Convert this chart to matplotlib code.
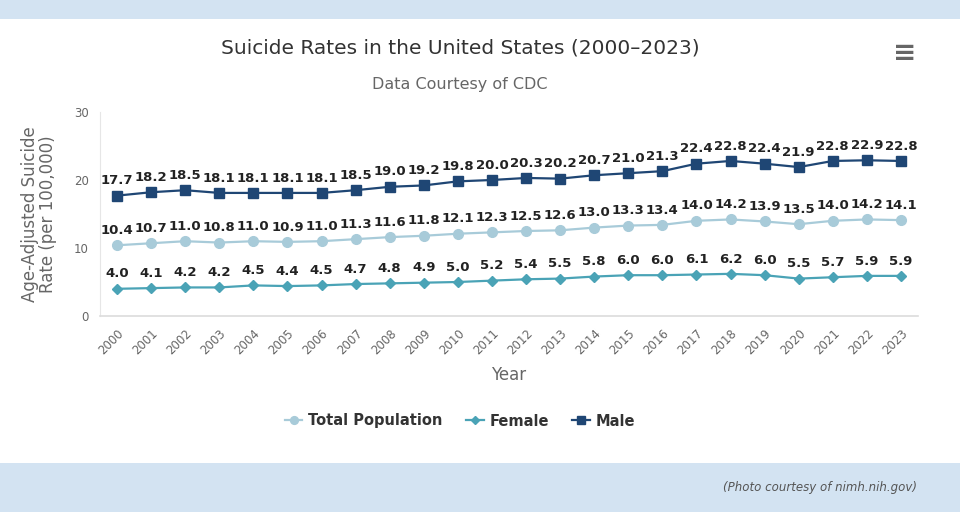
import numpy as np
import matplotlib.pyplot as plt
from matplotlib.patches import Rectangle

# Data
years = list(range(2000, 2024))
total = [10.4, 10.7, 11.0, 10.8, 11.0, 10.9, 11.0, 11.3, 11.6, 11.8, 12.1, 12.3,
         12.5, 12.6, 13.0, 13.3, 13.4, 14.0, 14.2, 13.9, 13.5, 14.0, 14.2, 14.1]
female = [4.0, 4.1, 4.2, 4.2, 4.5, 4.4, 4.5, 4.7, 4.8, 4.9, 5.0, 5.2,
          5.4, 5.5, 5.8, 6.0, 6.0, 6.1, 6.2, 6.0, 5.5, 5.7, 5.9, 5.9]
male = [17.7, 18.2, 18.5, 18.1, 18.1, 18.1, 18.1, 18.5, 19.0, 19.2, 19.8, 20.0,
        20.3, 20.2, 20.7, 21.0, 21.3, 22.4, 22.8, 22.4, 21.9, 22.8, 22.9, 22.8]
y_ticks = [0, 10, 20, 30]

title = "Suicide Rates in the United States (2000\u20132023)"
subtitle = "Data Courtesy of CDC"

c_total = "#a8cbd9"
c_female = "#4aa3b6"
c_male = "#1f4674"
band = "#d3e3f2"
grey = "#666666"
font = "DejaVu Sans"

# Figure setup
fig = plt.figure(figsize=(9.6, 5.12), dpi=100)
fig.patch.set_facecolor("white")
fig.add_artist(Rectangle((0, 1 - 19 / 512), 1, 19 / 512, transform=fig.transFigure,
                         facecolor=band, edgecolor="none"))
fig.add_artist(Rectangle((0, 0), 1, 49 / 512, transform=fig.transFigure,
                         facecolor=band, edgecolor="none"))

ax = fig.add_axes([100 / 960, 1 - 316 / 512, 818 / 960, 204 / 512])
x = np.arange(len(years))

series = [
    ("Total Population", total, c_total, "o", 7),
    ("Female", female, c_female, "D", 5),
    ("Male", male, c_male, "s", 7.5),
]
for name, vals, col, mk, ms in series:
    ax.plot(x, vals, color=col, lw=1.6, marker=mk, markersize=ms, label=name, zorder=3)
    for xi, v in zip(x, vals):
        ax.annotate(f"{v:.1f}", (xi, v), xytext=(0, 6), textcoords="offset points",
                    ha="center", va="bottom", fontsize=9.5, fontweight="bold",
                    color="#222222", family=font)

ax.set_xlim(-0.5, 23.5)
ax.set_ylim(0, 30)
ax.set_yticks(y_ticks)
ax.set_yticklabels([str(t) for t in y_ticks], color=grey, fontsize=8.5, family=font)
ax.set_xticks(x)
ax.set_xticklabels([str(y) for y in years], rotation=45, ha="right",
                   rotation_mode="anchor", color=grey, fontsize=8.5, family=font)
ax.tick_params(axis="both", length=0, pad=8)
for s in ["top", "right"]:
    ax.spines[s].set_visible(False)
ax.spines["left"].set_color("#e6e6e6")
ax.spines["bottom"].set_color("#dcdcdc")
ax.spines["bottom"].set_linewidth(1.2)

ax.set_xlabel("Year", color=grey, fontsize=12, family=font, labelpad=6)
ax.set_ylabel("Age-Adjusted Suicide\nRate (per 100,000)", color=grey, fontsize=12,
              family=font, labelpad=12, linespacing=1.0)

fig.text(460 / 960, 1 - 48 / 512, title, ha="center", va="center", fontsize=14.5,
         color="#333333", family=font)
fig.text(460 / 960, 1 - 84 / 512, subtitle, ha="center", va="center", fontsize=11.5,
         color=grey, family=font)
fig.text(905 / 960, 1 - 53 / 512, "\u2261", ha="center", va="center", fontsize=20,
         color="#666666", fontweight="bold")

leg = fig.legend(loc="center", bbox_to_anchor=(460 / 960, 1 - 421 / 512), ncol=3,
                 frameon=False, prop={"family": font, "weight": "bold", "size": 10.5},
                 handlelength=1.2, columnspacing=1.6, handletextpad=0.4, markerscale=0.8)
for t in leg.get_texts():
    t.set_color("#333333")

fig.text(917 / 960, 1 - 488 / 512, "(Photo courtesy of nimh.nih.gov)", ha="right",
         va="center", fontsize=8.5, style="italic", color="#555555", family=font)

fig.savefig("out.png", dpi=100)
